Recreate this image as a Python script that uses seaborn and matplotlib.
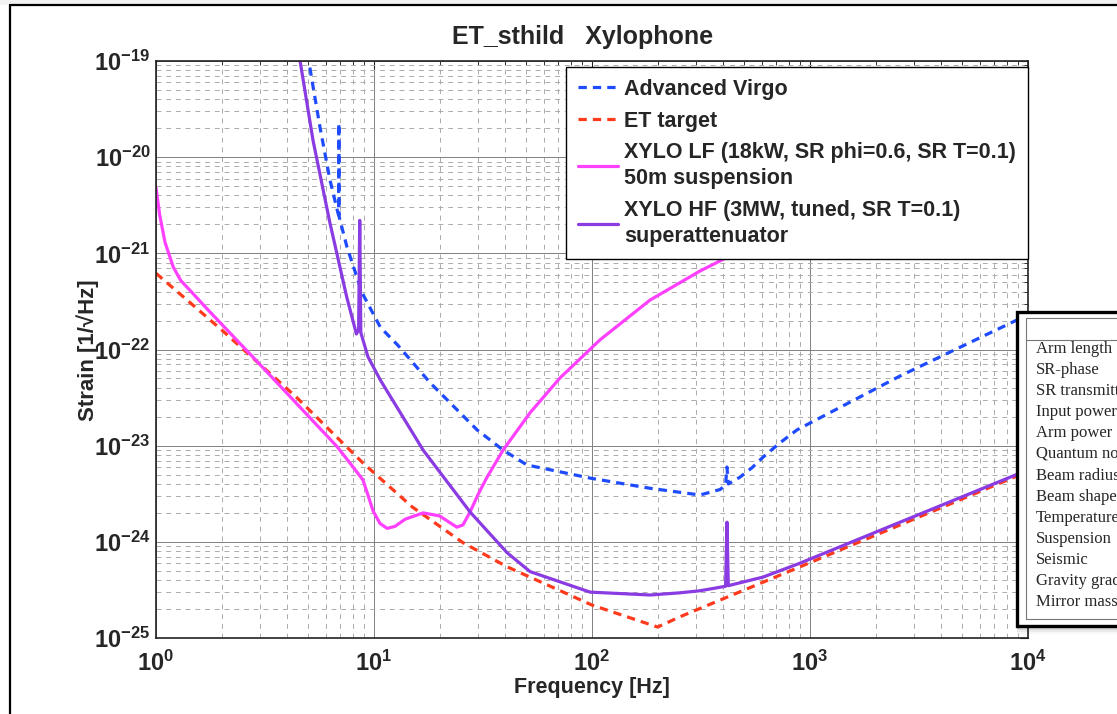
import numpy as np
import pandas as pd
import matplotlib
matplotlib.use("Agg")
import matplotlib.pyplot as plt
import seaborn as sns
from matplotlib.patches import Rectangle
from matplotlib.lines import Line2D
from matplotlib.ticker import FixedLocator, LogLocator, NullFormatter

# ---------------- data ----------------
virgo_f = [4.95, 5.65, 6.28, 6.84, 6.88, 6.9, 6.92, 7.52, 8.81, 10.7, 12.9, 18.1, 29.7, 39.1,
           50.3, 98, 185, 313, 387, 410, 416, 422, 477, 542, 609, 728, 872, 2588, 10000]
virgo_h = [1.2e-19, 2.06e-20, 5.8e-21, 2.6e-21, 2.5e-21, 2.26e-20, 2.4e-21, 1.16e-21, 3.9e-22,
           1.7e-22, 1.1e-22, 4.5e-23, 1.46e-23, 9.0e-24, 6.3e-24, 4.6e-24, 3.6e-24, 3.07e-24,
           3.5e-24, 3.9e-24, 6.0e-24, 4.0e-24, 4.7e-24, 5.9e-24, 7.6e-24, 1.07e-23, 1.46e-23,
           5.3e-23, 2.3e-22]

et_f = [1, 2, 4.4, 8.9, 15, 25.6, 40.8, 100, 200, 253, 900, 10000]
et_h = [6.2e-22, 1.6e-22, 3.2e-23, 6.6e-24, 2.3e-24, 9.8e-25, 5.5e-25, 2.2e-25, 1.3e-25,
        1.66e-25, 5.5e-25, 5.4e-24]

lf_f = [1.0, 1.04, 1.1, 1.2, 1.3, 1.45, 1.7, 2.79, 6.76, 7.76, 8.9, 9.38, 9.9, 10.66, 11.5,
        12.5, 13.9, 16.8, 20.0, 22.3, 24, 25.6, 27.6, 30, 33, 39.1, 52, 71.3, 108.8, 184.7,
        313, 453, 899, 2588, 10000]
lf_h = [4.8e-21, 2.5e-21, 1.3e-21, 7.2e-22, 5.2e-22, 4.0e-22, 2.7e-22, 8.3e-23, 9.8e-24,
        6.6e-24, 4.4e-24, 3.07e-24, 2.1e-24, 1.55e-24, 1.38e-24, 1.45e-24, 1.72e-24, 2.0e-24,
        1.86e-24, 1.58e-24, 1.42e-24, 1.5e-24, 2.05e-24, 3.1e-24, 4.7e-24, 9.0e-24, 2.2e-23,
        5.06e-23, 1.26e-22, 3.27e-22, 6.55e-22, 1.0e-21, 2.2e-21, 7.0e-21, 2.9e-20]

hf_f = [4.55, 5.25, 6.27, 7.5, 8.1, 8.3, 8.5, 8.6, 8.7, 9.38, 10.7, 16.8, 27.6, 40.8, 52, 98,
        185, 253, 313, 410, 416, 422, 609, 900, 2588, 10000]
hf_h = [1.1e-19, 1.5e-20, 2.1e-21, 3.5e-22, 1.8e-22, 1.45e-22, 1.6e-22, 2.2e-21, 1.5e-22,
        8.4e-23, 4.8e-23, 9.0e-24, 2.04e-24, 7.7e-25, 4.9e-25, 3.0e-25, 2.8e-25, 2.95e-25,
        3.1e-25, 3.45e-25, 1.6e-24, 3.5e-25, 4.3e-25, 6.0e-25, 1.6e-24, 5.6e-24]

series_labels = ["Advanced Virgo", "ET target",
                 "XYLO LF (18kW, SR phi=0.6, SR T=0.1)\n50m suspension",
                 "XYLO HF (3MW, tuned, SR T=0.1)\nsuperattenuator"]

x_exponents = [0, 1, 2, 3, 4]
y_exponents = [-25, -24, -23, -22, -21, -20, -19]

table_rows = ["Arm length", "SR-phase", "SR transmittance", "Input power", "Arm power",
              "Quantum noise suppression", "Beam radius", "Beam shape", "Temperature",
              "Suspension", "Seismic", "Gravity gradient subtraction", "Mirror masses"]

title_text = "ET_sthild   Xylophone"

# ---------------- styling ----------------
sns.set_theme(style="white")
plt.rcParams.update({
    "font.family": ["Liberation Sans", "DejaVu Sans"],
    "font.weight": "bold",
    "mathtext.fontset": "custom",
    "mathtext.rm": "Liberation Sans:bold",
    "mathtext.it": "Liberation Sans:bold",
    "mathtext.bf": "Liberation Sans:bold",
    "mathtext.default": "rm",
})

W, H = 1117, 714
fig = plt.figure(figsize=(W / 100, H / 100), dpi=100)
fig.patch.set_facecolor("white")

ax_l, ax_r, ax_t, ax_b = 156, 1028, 61, 638
ax = fig.add_axes([ax_l / W, 1 - ax_b / H, (ax_r - ax_l) / W, (ax_b - ax_t) / H])
ax.set_facecolor("white")

c_virgo = "#1f4bff"
c_et = "#ff3a1c"
c_lf = "#ff40ff"
c_hf = "#8a3be2"
lw = 2.3
dash = (0, (2.6, 1.9))

df_v = pd.DataFrame({"f": virgo_f, "h": virgo_h})
df_e = pd.DataFrame({"f": et_f, "h": et_h})
df_l = pd.DataFrame({"f": lf_f, "h": lf_h})
df_hf = pd.DataFrame({"f": hf_f, "h": hf_h})

sns.lineplot(data=df_v, x="f", y="h", ax=ax, color=c_virgo, lw=lw, linestyle=dash,
             estimator=None, sort=False, label=series_labels[0])
sns.lineplot(data=df_e, x="f", y="h", ax=ax, color=c_et, lw=lw, linestyle=dash,
             estimator=None, sort=False, label=series_labels[1])
sns.lineplot(data=df_l, x="f", y="h", ax=ax, color=c_lf, lw=lw,
             estimator=None, sort=False, label=series_labels[2])
sns.lineplot(data=df_hf, x="f", y="h", ax=ax, color=c_hf, lw=lw,
             estimator=None, sort=False, label=series_labels[3])

ax.set_xscale("log")
ax.set_yscale("log")
ax.set_xlim(10.0 ** x_exponents[0], 10.0 ** x_exponents[-1])
ax.set_ylim(10.0 ** y_exponents[0], 10.0 ** y_exponents[-1])

ax.xaxis.set_major_locator(FixedLocator([10.0 ** e for e in x_exponents]))
ax.yaxis.set_major_locator(FixedLocator([10.0 ** e for e in y_exponents]))
ax.set_xticklabels([f"$10^{{{e}}}$" for e in x_exponents], fontsize=17)
ax.set_yticklabels([f"$10^{{{e}}}$" for e in y_exponents], fontsize=17)
ax.xaxis.set_minor_locator(LogLocator(base=10, subs=np.arange(2, 10), numticks=20))
ax.yaxis.set_minor_locator(LogLocator(base=10, subs=np.arange(2, 10), numticks=20))
ax.xaxis.set_minor_formatter(NullFormatter())
ax.yaxis.set_minor_formatter(NullFormatter())

ax.tick_params(which="both", direction="in", top=True, right=True, color="#222222")
ax.tick_params(which="major", length=6, width=0.8)
ax.tick_params(which="minor", length=3, width=0.6)
ax.tick_params(axis="x", which="major", pad=9)
ax.tick_params(axis="y", which="major", pad=4)

ax.grid(True, which="major", color="#808080", lw=0.7, ls="-")
ax.grid(True, which="minor", color="#ababab", lw=0.7, ls=(0, (5, 5)))
ax.set_axisbelow(True)
for s in ax.spines.values():
    s.set_color("#222222")
    s.set_linewidth(1.2)

ax.set_xlabel("")
ax.set_ylabel("")

leg = ax.legend(loc="upper right", bbox_to_anchor=(1.0, 1 - 6 / (ax_b - ax_t)),
                borderaxespad=0.0, fancybox=False, framealpha=1, edgecolor="black",
                prop={"family": "Liberation Sans", "weight": "bold", "size": 15.5},
                handlelength=1.85, handletextpad=0.3, labelspacing=0.5,
                borderpad=0.55)
leg.get_frame().set_linewidth(1.0)
for t in leg.get_texts():
    t.set_linespacing(1.3)

# titles / labels
fig.text(583 / W, 1 - 37 / H, title_text, ha="center", va="center",
         fontsize=18, fontweight="bold")
fig.text(592 / W, 1 - 688 / H, "Frequency [Hz]", ha="center", va="center",
         fontsize=15.5, fontweight="bold")
fig.text(88 / W, 1 - 350 / H, "Strain [1/\u221aHz]", ha="center", va="center",
         rotation=90, fontsize=16, fontweight="bold")

# window frame lines
fig.add_artist(Rectangle((0, 1 - 5 / H), 1, 5 / H, transform=fig.transFigure,
                         facecolor="#f2f2f2", edgecolor="none", zorder=0))
fig.add_artist(Line2D([10 / W, 10 / W], [0, 1 - 5 / H], transform=fig.transFigure,
                      color="black", lw=1.6))
fig.add_artist(Line2D([10 / W, 1], [1 - 5 / H, 1 - 5 / H], transform=fig.transFigure,
                      color="black", lw=1.6))

# overlay table (partially cut)
tx0, ty0, ty1 = 1017, 312, 626
for k, a in enumerate([0.10, 0.07, 0.05, 0.03]):
    off = 2 + 2 * k
    fig.add_artist(Rectangle((tx0 / W, 1 - (ty1 + off) / H), 1, (ty1 - ty0) / H,
                             transform=fig.transFigure, facecolor="black", alpha=a,
                             edgecolor="none", zorder=5))
fig.add_artist(Rectangle((tx0 / W, 1 - ty1 / H), (W + 20 - tx0) / W, (ty1 - ty0) / H,
                         transform=fig.transFigure, facecolor="white", edgecolor="black",
                         lw=2.4, zorder=6))
fig.add_artist(Rectangle((1026 / W, 1 - 619 / H), (W + 20 - 1026) / W, (619 - 318) / H,
                         transform=fig.transFigure, facecolor="none", edgecolor="#777777",
                         lw=0.8, zorder=7))
fig.add_artist(Line2D([1026 / W, 1], [1 - 340 / H, 1 - 340 / H], transform=fig.transFigure,
                      color="#777777", lw=0.8, zorder=7))
for i, row in enumerate(table_rows):
    y = 349 + i * 21.1
    fig.text(1036 / W, 1 - y / H, row, ha="left", va="center", fontsize=12,
             family="Liberation Serif", fontweight="normal", zorder=8)

fig.savefig("out.png", dpi=100, facecolor="white")
